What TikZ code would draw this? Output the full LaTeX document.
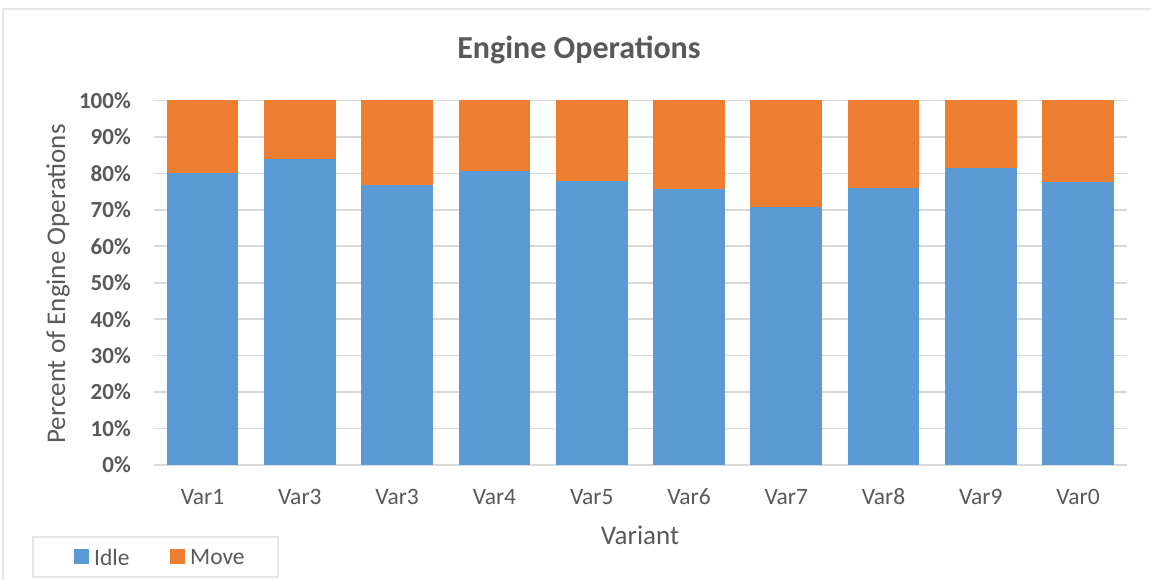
\documentclass[tikz,border=0pt]{standalone}
\usepackage{fontspec}
\setmainfont{Carlito}
\definecolor{idle}{HTML}{5B9BD5}
\definecolor{move}{HTML}{ED7D31}
\definecolor{grid}{HTML}{D9D9D9}
\definecolor{txt}{HTML}{595959}
\definecolor{frame}{HTML}{E6E6E6}
\begin{document}
\begin{tikzpicture}[x=1pt,y=-1pt,
  every node/.style={text=txt, inner sep=0pt},
  ticklab/.style={font=\fontsize{23}{24}\selectfont\bfseries, anchor=east},
  catlab/.style={font=\fontsize{23.5}{25}\selectfont},
  axtitle/.style={font=\fontsize{27}{29}\selectfont},
  legtext/.style={font=\fontsize{23.5}{25}\selectfont, anchor=west},
  gridline/.style={draw=grid, line width=1.6pt}]
\useasboundingbox (0,0) rectangle (1151,580);
\fill[white] (0,0) rectangle (1151,580);
% chart frame
\draw[frame, line width=1.5pt] (3,585) -- (3,9) -- (1160,9);
% title
\node[font=\fontsize{32}{34}\selectfont\bfseries] (title) at (579,50) {Engine Operations};
% gridlines and tick labels
\foreach \p in {0,10,...,100}{
  \draw[gridline] (154,{465-3.645*\p}) -- (1127,{465-3.645*\p});
  \node[ticklab] (t\p) at (131,{465-3.645*\p}) {\p\%};
}
% stacked bars
\foreach \v [count=\i from 0] in {80.0,83.9,76.8,80.6,77.8,75.6,70.8,76.0,81.6,77.6}{
  \pgfmathsetmacro{\cx}{154+97.27*(\i+0.5)}
  \fill[move] ({\cx-35.8},100.5) rectangle ({\cx+35.8},{465-3.645*\v});
  \fill[idle] ({\cx-35.8},{465-3.645*\v}) rectangle ({\cx+35.8},465);
}
% category labels
\foreach \n [count=\i from 0] in {Var1,Var3,Var3,Var4,Var5,Var6,Var7,Var8,Var9,Var0}{
  \node[catlab] (c\i) at ({154+97.27*(\i+0.5)},497) {\n};
}
% axis titles
\node[axtitle, rotate=90] (ytitle) at (58,284) {Percent of Engine Operations};
\node[axtitle] (xtitle) at (640,535) {Variant};
% legend
\draw[frame, line width=1.5pt, fill=white] (33,537) rectangle (278,577);
\fill[idle] (74,549) rectangle (89,564);
\node[legtext] (lidle) at (94,557) {Idle};
\fill[move] (170,549) rectangle (185,564);
\node[legtext] (lmove) at (190,557) {Move};
\end{tikzpicture}
\end{document}
